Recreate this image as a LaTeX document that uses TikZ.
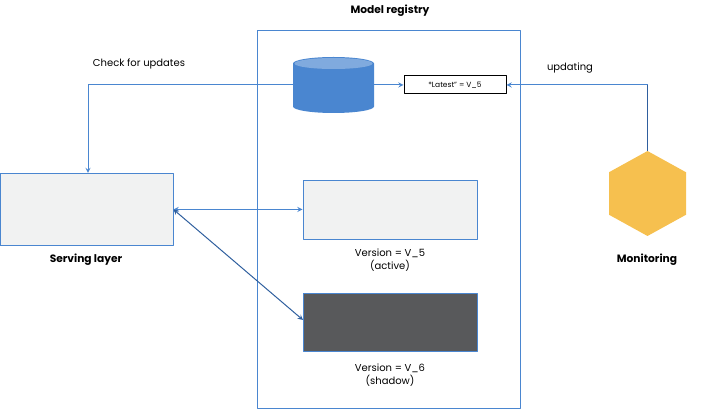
\documentclass[tikz,border=0pt]{standalone}
\usepackage{fontspec}
\setmainfont{Poppins}
\usetikzlibrary{shapes.geometric}
\definecolor{linkblue}{HTML}{4A86D0}
\definecolor{linkdark}{HTML}{2F5F9E}
\definecolor{lightbox}{HTML}{F1F2F2}
\definecolor{darkbox}{HTML}{58595B}
\definecolor{hexyellow}{HTML}{F6C04F}
\begin{document}
\begin{tikzpicture}[x=0.75pt, y=-0.75pt, font=\fontsize{7.5}{9.8}\selectfont, line join=round, >=stealth,
	link/.style={linkblue, line width=0.75pt},
	panel/.style={draw=linkblue, line width=0.75pt, inner sep=0pt, minimum height=#1},
	title/.style={font=\fontsize{8}{10}\selectfont\bfseries, align=center}]
	\useasboundingbox (0, 0) rectangle (714, 409);
	\node[panel=283.5pt, minimum width=197.25pt] (registry) at (388.5, 219.5) {};
	\node[panel=54pt, minimum width=129.75pt, fill=lightbox] (serving) at (86.5, 209.5) {};
	\node[panel=44.25pt, minimum width=130.5pt, fill=lightbox] (active) at (390, 210) {};
	\node[panel=43.5pt, minimum width=130.5pt, fill=darkbox] (shadow) at (390, 322.5) {};
	\node[draw=black, line width=0.75pt, fill=white, inner sep=0pt, minimum width=76.5pt, minimum height=13.5pt, font=\fontsize{5.6}{7}\selectfont] (latest) at (455, 85) {*Latest" = V\_5};
	\node[inner sep=0pt, minimum width=60.75pt, minimum height=42pt] (store) at (333.5, 85) {};
	\fill[linkblue] (293, 63.5) -- (293, 106.5) arc[start angle=180, end angle=360, x radius=40.5, y radius=-6.5] -- (374, 63.5) arc[start angle=0, end angle=180, x radius=40.5, y radius=-6.5] -- cycle;
	\fill[linkblue!70!white] (333.5, 63.5) ellipse[x radius=39, y radius=5.5];
	\node[regular polygon, regular polygon sides=6, shape border rotate=30, fill=hexyellow, inner sep=0pt, minimum size=63.75pt, xscale=1.046] (monitor) at (647.5, 193.5) {};
	\coordinate (checkturn) at (88, 85);
	\coordinate (updateturn) at (647.5, 85);
	\coordinate (shadowend) at (303, 320);
	\draw[link, ->] (store.west) -- (checkturn) -- (serving.north -| checkturn);
	\draw[link, ->] (store.east) -- (latest.west);
	\draw[link, ->] (updateturn) -- (latest.east);
	\draw[line width=1pt, linkdark] (monitor.corner 1) -- (updateturn);
	\draw[link, <->] (serving.east) -- (serving.east -| active.west);
	\draw[link, <->, draw=linkdark] (serving.east) -- (shadowend);
	\node[title] (registrytitle) at (390, 10.5) {Model registry};
	\node (checktext) at (139, 64) {Check for updates};
	\node (updatetext) at (570, 68) {updating};
	\node[title] (servingtext) at (86, 260) {Serving layer};
	\node[title] (monitortext) at (647, 260) {Monitoring};
	\node[align=center] (activetext) at (390, 260) {Version = V\_5\\(active)};
	\node[align=center] (shadowtext) at (390, 375) {Version = V\_6\\(shadow)};
\end{tikzpicture}
\end{document}
